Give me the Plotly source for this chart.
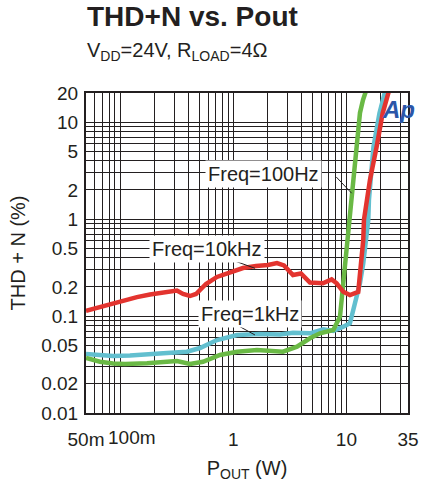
import plotly.graph_objects as go

# ---- data (Pout in W, THD+N in %) ----
freq100_x = [0.05, 0.0666, 0.0866, 0.1105, 0.173, 0.318, 0.415, 0.540, 0.763, 1.079, 1.62, 2.75,
             3.66, 4.76, 5.84, 7.65, 8.77, 9.38, 10.05, 10.53, 11.12, 11.65, 12.13, 13.17, 14.0, 15.18]
freq100_y = [0.0369, 0.0338, 0.0324, 0.0320, 0.0326, 0.0344, 0.0320, 0.0338, 0.0397, 0.0429, 0.0447, 0.0429,
             0.0483, 0.0590, 0.0664, 0.0718, 0.0985, 0.218, 0.480, 0.870, 1.774, 3.62, 5.55, 12.44, 16.9, 22.5]

freq1k_x = [0.05, 0.0666, 0.0866, 0.1224, 0.173, 0.260, 0.390, 0.508, 0.718, 1.079, 1.722, 2.587, 3.37,
            4.76, 6.24, 7.65, 9.38, 10.74, 11.89, 13.17, 14.08, 14.58, 15.59, 15.81, 16.47, 17.33, 19.58, 22.12]
freq1k_y = [0.0406, 0.0392, 0.0387, 0.0392, 0.0406, 0.0416, 0.0429, 0.0468, 0.0566, 0.0638, 0.0653, 0.0645, 0.0673,
            0.0664, 0.0730, 0.0701, 0.0777, 0.0842, 0.1354, 0.218, 0.350, 0.480, 0.979, 1.574, 2.53, 5.58, 12.35, 21.5]

freq10k_x = [0.05, 0.0666, 0.0866, 0.1105, 0.141, 0.1838, 0.239, 0.318, 0.360, 0.415, 0.469, 0.574, 0.718,
             0.935, 1.219, 1.588, 2.027, 2.433, 2.806, 3.37, 3.963, 4.762, 6.20, 7.40, 8.20, 9.38, 10.74,
             12.72, 13.17, 13.63, 14.08, 14.28, 15.18, 16.13, 18.49, 20.89, 23.89]
freq10k_y = [0.113, 0.124, 0.136, 0.1466, 0.157, 0.167, 0.175, 0.1835, 0.169, 0.161, 0.169, 0.214, 0.253,
             0.285, 0.313, 0.328, 0.336, 0.3526, 0.3324, 0.2653, 0.2748, 0.222, 0.218, 0.239, 0.218, 0.178, 0.165,
             0.178, 0.255, 0.379, 0.609, 0.979, 1.574, 2.53, 5.58, 12.35, 21.5]

x_tickvals = [0.05, 0.1, 1, 10, 35]
x_ticktext = ["50m", "100m", "1", "10", "35"]
y_tickvals = [0.01, 0.02, 0.05, 0.1, 0.2, 0.5, 1, 2, 5, 10, 20]
y_ticktext = ["0.01", "0.02", "0.05", "0.1", "0.2", "0.5", "1", "2", "5", "10", "20"]

# ---- styling ----
INK = "#231f20"
FONT = "Liberation Sans, Arial, sans-serif"
RED = "#e3342f"
GREEN = "#6ab945"
CYAN = "#62bfcf"

def minor_vals(lo, hi):
    vals = []
    for d in range(-3, 3):
        for k in range(1, 10):
            v = k * 10 ** d
            if lo <= v <= hi:
                vals.append(v)
    return vals

fig = go.Figure()
fig.add_trace(go.Scatter(x=freq1k_x, y=freq1k_y, mode="lines", name="Freq=1kHz",
                         line=dict(color=CYAN, width=4.5)))
fig.add_trace(go.Scatter(x=freq100_x, y=freq100_y, mode="lines", name="Freq=100Hz",
                         line=dict(color=GREEN, width=4.5)))
fig.add_trace(go.Scatter(x=freq10k_x, y=freq10k_y, mode="lines", name="Freq=10kHz",
                         line=dict(color=RED, width=4.5)))

axis_common = dict(
    type="log", showline=True, linewidth=2, linecolor=INK, mirror=True,
    showgrid=True, gridcolor=INK, gridwidth=1.2, ticks="", zeroline=False,
    tickfont=dict(family=FONT, size=19, color=INK), automargin=False, tickangle=0,
)

# the "100m" label sits a little right of its grid line in the reference,
# so it is drawn as a separate text; the others are regular tick labels
x_axis_idx = [i for i, t in enumerate(x_ticktext) if t != "100m"]
fig.update_xaxes(
    **axis_common,
    range=[-1.301, 1.544], tickmode="array",
    tickvals=[x_tickvals[i] for i in x_axis_idx], ticktext=[x_ticktext[i] for i in x_axis_idx],
    minor=dict(tickmode="array", tickvals=minor_vals(0.05, 35), showgrid=True,
               gridcolor=INK, gridwidth=1.2, ticks=""),
    ticklabelstandoff=8,
    title=dict(text="P<sub>OUT</sub> (W)", font=dict(family=FONT, size=20, color=INK), standoff=14),
)
fig.update_yaxes(
    **axis_common,
    range=[-2, 1.30103], tickmode="array", tickvals=y_tickvals, ticktext=y_ticktext,
    minor=dict(tickmode="array", tickvals=minor_vals(0.01, 20), showgrid=True,
               gridcolor=INK, gridwidth=1.2, ticks=""),
    ticklabelstandoff=2,
    title=dict(text="THD + N (%)", font=dict(family=FONT, size=20, color=INK), standoff=10),
)

annotations = [
    dict(text="<b>THD+N vs. Pout</b>", xref="paper", yref="paper", x=-0.004, y=1.2375,
         xanchor="left", yanchor="middle", showarrow=False,
         font=dict(family=FONT, size=28, color=INK)),
    dict(text="V<sub>DD</sub>=24V, R<sub>LOAD</sub>=4\u03a9", xref="paper", yref="paper",
         x=-0.004, y=1.13, xanchor="left", yanchor="middle", showarrow=False,
         font=dict(family=FONT, size=20, color=INK)),
    # "100m" x tick label
    dict(text=x_ticktext[1], xref="x", yref="paper", x=-1.0, y=-0.075, xshift=12,
         xanchor="center", yanchor="middle", showarrow=False,
         font=dict(family=FONT, size=19, color=INK)),
    # curve labels
    dict(text="Freq=100Hz", x=0.2714, y=0.4654, xref="x", yref="y", showarrow=False,
         bgcolor="white", borderpad=2, font=dict(family=FONT, size=20, color=INK)),
    dict(text="Freq=10kHz", x=-0.2277, y=-0.3082, xref="x", yref="y", showarrow=False,
         bgcolor="white", borderpad=2, font=dict(family=FONT, size=20, color=INK)),
    dict(text="Freq=1kHz", x=0.1478, y=-0.9736, xref="x", yref="y", showarrow=False,
         bgcolor="white", borderpad=2, font=dict(family=FONT, size=20, color=INK)),
    # Ap logo
    dict(text="<b><i>Ap</i></b>", xref="paper", yref="paper", x=0.97, y=0.947,
         xanchor="center", yanchor="middle", showarrow=False,
         font=dict(family="Liberation Sans Narrow, Arial Narrow, Arial", size=24, color="#2b56a8")),
]

# pointer lines from each label to its curve (data values on log axes)
pointer_lines = [
    ((8.13, 2.72), (11.12, 1.85)),
    ((1.03, 0.370), (1.556, 0.311)),
    ((1.07, 0.0812), (1.556, 0.0638)),
]
shapes = [dict(type="line", xref="x", yref="y", x0=a[0], y0=a[1], x1=b[0], y1=b[1],
               line=dict(color=INK, width=1)) for a, b in pointer_lines]

fig.update_layout(
    width=424, height=482,
    margin=dict(l=86, r=16, t=93, b=69),
    paper_bgcolor="white", plot_bgcolor="white",
    showlegend=False,
    annotations=annotations,
    shapes=shapes,
    font=dict(family=FONT, color=INK),
)

fig.write_html("out.html")
